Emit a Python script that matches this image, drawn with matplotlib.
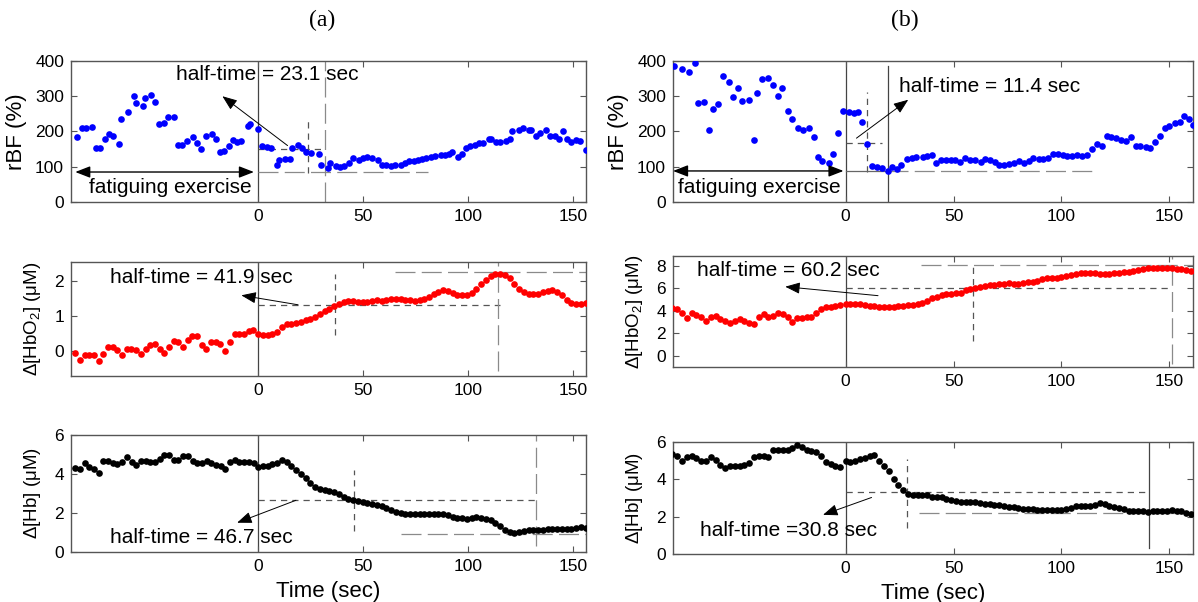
import numpy as np
import matplotlib

matplotlib.use("Agg")
import matplotlib.pyplot as plt

plt.rcParams["font.family"] = ["Liberation Sans", "DejaVu Sans"]
plt.rcParams["mathtext.default"] = "regular"

# ---- panel (a) ----
rbf_a_t = [
	-86, -84, -82, -79, -77, -75, -73, -71, -69, -66,
	-65, -62, -59, -58, -55, -54, -51, -49, -47, -45,
	-43, -40, -38, -36, -34, -31, -29, -27, -25, -22,
	-20, -18, -16, -14, -12, -10, -8, -5, -4, 0,
	2, 4, 6, 9, 10, 13, 15, 16, 19, 21,
	23, 25, 29, 30, 33, 34, 37, 39, 41, 43,
	45, 48, 50, 52, 54, 57, 59, 61, 63, 65,
	68, 70, 72, 74, 76, 78, 80, 82, 84, 87,
	89, 91, 92, 95, 97, 99, 101, 103, 105, 107,
	110, 111, 113, 115, 118, 120, 121, 124, 126, 129,
	130, 132, 134, 137, 139, 141, 143, 145, 147, 149,
	151, 153, 156,
]
rbf_a = [
	183, 209, 209, 212, 153, 153, 178, 192, 186, 165,
	235, 256, 301, 280, 273, 294, 304, 283, 221, 224,
	241, 241, 162, 162, 174, 183, 166, 151, 186, 192,
	178, 141, 145, 158, 176, 169, 174, 216, 222, 207,
	159, 156, 152, 106, 120, 122, 122, 152, 162, 153,
	141, 139, 137, 106, 95, 110, 103, 98, 103, 110,
	125, 118, 125, 127, 126, 120, 106, 106, 103, 106,
	106, 110, 117, 115, 120, 122, 125, 129, 131, 134,
	134, 137, 141, 129, 137, 153, 158, 162, 167, 167,
	178, 178, 169, 169, 174, 178, 202, 203, 211, 203,
	205, 186, 197, 203, 186, 188, 180, 200, 180, 169,
	176, 172, 148,
]

hbo2_a_pre = [
	-0.05, -0.23, -0.09, -0.09, -0.11, -0.26, -0.07, 0.14, 0.14, 0.03,
	-0.10, 0.06, 0.06, 0.03, -0.07, 0.08, 0.17, 0.20, 0.06, -0.04,
	0.14, 0.30, 0.26, 0.12, 0.33, 0.44, 0.43, 0.17, 0.08, 0.26,
	0.26, 0.20, 0.00, 0.26, 0.50, 0.50, 0.50, 0.57, 0.62,
]
hbo2_a_post = [
	0.50, 0.46, 0.46, 0.50, 0.55, 0.70, 0.77, 0.79, 0.81, 0.84,
	0.89, 0.92, 0.98, 1.08, 1.15, 1.22, 1.29, 1.34, 1.41, 1.44,
	1.44, 1.41, 1.42, 1.41, 1.44, 1.46, 1.44, 1.48, 1.50, 1.50,
	1.50, 1.46, 1.46, 1.44, 1.48, 1.50, 1.55, 1.63, 1.70, 1.74,
	1.72, 1.67, 1.60, 1.60, 1.60, 1.67, 1.79, 1.93, 2.05, 2.14,
	2.20, 2.22, 2.17, 2.08, 1.91, 1.77, 1.70, 1.65, 1.63, 1.63,
	1.70, 1.72, 1.74, 1.70, 1.60, 1.48, 1.38, 1.34, 1.34, 1.38,
]

hb_a_pre = [
	4.28, 4.23, 4.54, 4.37, 4.23, 4.06, 4.66, 4.66, 4.54, 4.50,
	4.62, 4.85, 4.62, 4.45, 4.66, 4.66, 4.62, 4.62, 4.79, 4.97,
	4.97, 4.74, 4.74, 4.91, 4.91, 4.67, 4.54, 4.54, 4.66, 4.54,
	4.45, 4.40, 4.23, 4.62, 4.71, 4.62, 4.62, 4.59, 4.54,
]
hb_a_post = [
	4.37, 4.40, 4.40, 4.49, 4.54, 4.71, 4.62, 4.40, 4.20, 3.99,
	3.77, 3.54, 3.34, 3.25, 3.20, 3.13, 3.05, 2.96, 2.83, 2.71,
	2.65, 2.62, 2.57, 2.53, 2.48, 2.43, 2.35, 2.23, 2.14, 2.05,
	2.00, 1.97, 1.97, 1.95, 1.95, 1.95, 1.95, 1.95, 1.95, 1.93,
	1.88, 1.80, 1.76, 1.73, 1.71, 1.76, 1.80, 1.76, 1.71, 1.63,
	1.49, 1.32, 1.15, 1.03, 0.98, 1.03, 1.10, 1.12, 1.13, 1.14,
	1.15, 1.16, 1.16, 1.17, 1.18, 1.20, 1.20, 1.22, 1.28, 1.25,
]

# ---- panel (b) ----
rbf_b_t = [
	-79.6, -76, -72.4, -70, -68.3, -65.8, -63.4, -61.3, -59, -57,
	-54, -52, -50, -48, -45, -42.3, -41, -38.7, -36, -33.7,
	-31.5, -29.7, -26.5, -24.7, -22.3, -19.8, -17, -14.8, -13, -10.8,
	-7.7, -5.8, -3.6, -1.3,
	1.4, 3.8, 5.6, 7.7, 10, 12.3, 14.6, 16.8, 19.5, 21.3,
	23.6, 25.8, 28.5, 30.8, 32.6, 35.7, 37.5, 39.8, 42, 44.3,
	46.5, 48.6, 50.6, 53, 55.5, 57.8, 60, 62.7, 64.5, 66.8,
	69, 71, 73.5, 75.9, 78, 80.4, 82.5, 84.9, 87, 89.4,
	91.5, 93.7, 96, 98.2, 100.5, 102.7, 105, 107.2, 109.5, 111.9,
	114, 116.4, 118.6, 120.9, 123, 125.4, 127.6, 130, 132, 134.4,
	136.6, 139, 141, 143.2, 145.6, 148, 150, 152.4, 155, 157,
	159, 161,
]
rbf_b = [
	386, 376, 368, 395, 280, 285, 203, 263, 277, 358,
	339, 299, 323, 287, 290, 176, 308, 349, 353, 332,
	302, 323, 257, 236, 209, 205, 209, 183, 129, 115,
	110, 137, 195, 257,
	254, 252, 254, 226, 165, 103, 98, 96, 89, 98,
	94, 104, 122, 125, 127, 127, 131, 134, 110, 118,
	118, 118, 118, 113, 125, 120, 118, 113, 122, 118,
	113, 106, 106, 108, 110, 115, 110, 117, 125, 122,
	123, 126, 136, 136, 134, 131, 131, 134, 131, 134,
	150, 165, 158, 186, 184, 181, 176, 174, 184, 158,
	160, 156, 153, 169, 186, 209, 216, 224, 228, 244,
	235, 219,
]

hbo2_b_pre = [
	4.30, 4.18, 3.85, 3.41, 3.79, 3.64, 3.44, 3.11, 3.50, 3.56,
	3.26, 3.14, 2.90, 3.14, 3.29, 3.14, 2.96, 2.84, 3.50, 3.70,
	3.50, 3.56, 3.79, 3.70, 3.50, 2.99, 3.41, 3.41, 3.50, 3.50,
	3.79, 4.15, 4.33, 4.39, 4.47, 4.53,
]
hbo2_b_post = [
	4.59, 4.62, 4.59, 4.62, 4.53, 4.47, 4.44, 4.39, 4.39, 4.39,
	4.39, 4.44, 4.44, 4.53, 4.53, 4.62, 4.68, 4.89, 5.13, 5.27,
	5.39, 5.51, 5.51, 5.57, 5.63, 5.87, 5.93, 6.07, 6.16, 6.22,
	6.31, 6.31, 6.37, 6.37, 6.46, 6.37, 6.37, 6.46, 6.55, 6.61,
	6.67, 6.81, 6.90, 6.96, 6.96, 7.05, 7.11, 7.20, 7.26, 7.35,
	7.35, 7.35, 7.35, 7.29, 7.29, 7.26, 7.35, 7.41, 7.44, 7.50,
	7.56, 7.64, 7.73, 7.79, 7.85, 7.85, 7.79, 7.85, 7.79, 7.70,
	7.70, 7.64, 7.56,
]

hb_b_pre = [
	5.36, 5.23, 4.96, 5.18, 5.23, 5.14, 5.00, 5.00, 5.20, 5.05,
	4.78, 4.61, 4.70, 4.73, 4.73, 4.78, 4.87, 5.20, 5.23, 5.23,
	5.20, 5.56, 5.59, 5.56, 5.59, 5.68, 5.86, 5.73, 5.59, 5.50,
	5.45, 5.23, 4.91, 4.82, 4.73, 4.64,
]
hb_b_post = [
	4.96, 4.91, 5.00, 5.09, 5.14, 5.23, 5.32, 4.96, 4.73, 4.43,
	4.03, 3.71, 3.44, 3.23, 3.14, 3.14, 3.14, 3.14, 3.08, 3.08,
	3.03, 2.97, 2.90, 2.85, 2.81, 2.81, 2.81, 2.78, 2.72, 2.69,
	2.67, 2.63, 2.60, 2.58, 2.54, 2.54, 2.46, 2.42, 2.42, 2.40,
	2.37, 2.37, 2.37, 2.37, 2.37, 2.37, 2.40, 2.49, 2.58, 2.58,
	2.58, 2.58, 2.63, 2.72, 2.69, 2.58, 2.54, 2.46, 2.40, 2.33,
	2.28, 2.28, 2.31, 2.24, 2.28, 2.31, 2.31, 2.31, 2.37, 2.31,
	2.28, 2.22, 2.15,
]

half_times_a = ["23.1", "41.9", "46.7"]
half_times_b = ["11.4", "60.2", "30.8"]

SPINE = "#555555"
DASH = "#555555"
LONG = "#8a8a8a"
TXT = 15


def sampled(values, t_first, t_last):
	# evenly sampled recording between first and last sample time
	return np.linspace(t_first, t_last, len(values))


def style_axes(ax, xlim, ylim, yticks):
	ax.set_xlim(*xlim)
	ax.set_ylim(*ylim)
	ax.set_xticks([0, 50, 100, 150])
	ax.set_yticks(yticks)
	for s in ax.spines.values():
		s.set_color(SPINE)
		s.set_linewidth(1.0)
	ax.tick_params(
		direction="in", top=True, right=True, length=4,
		color=SPINE, labelsize=12.5, pad=5,
	)


def vline(ax, x, y0, y1, kind):
	if kind == "solid":
		ax.plot([x, x], [y0, y1], color="#444444", lw=0.9, zorder=1)
	elif kind == "dash":
		ax.plot([x, x], [y0, y1], color=DASH, lw=0.9, dashes=(5, 4), zorder=1)
	else:
		ax.plot([x, x], [y0, y1], color=LONG, lw=0.9, dashes=(16, 5), zorder=1)


def hline(ax, y, x0, x1, kind):
	if kind == "solid":
		ax.plot([x0, x1], [y, y], color="#666666", lw=0.9, zorder=1)
	elif kind == "dash":
		ax.plot([x0, x1], [y, y], color=DASH, lw=0.9, dashes=(5, 4), zorder=1)
	else:
		ax.plot([x0, x1], [y, y], color=LONG, lw=0.9, dashes=(16, 5), zorder=1)


def arrow(ax, head, tail):
	ax.annotate(
		"", xy=head, xytext=tail,
		arrowprops=dict(
			arrowstyle="-|>,head_length=0.9,head_width=0.35",
			color="black", lw=0.7, shrinkA=0, shrinkB=0,
		),
		zorder=4,
	)


def fatigue_marker(ax, x0, x1, y, tx, ty):
	ax.annotate(
		"", xy=(x0, y), xytext=(x1, y),
		arrowprops=dict(
			arrowstyle="<|-|>,head_length=0.9,head_width=0.35",
			color="black", lw=1.0, shrinkA=0, shrinkB=0,
		),
		zorder=4,
	)
	ax.text(tx, ty, "fatiguing exercise", fontsize=TXT, ha="center", va="center")


def dots(ax, t, y, color):
	ax.plot(
		t, y, "o", color=color, ms=4.8, mew=0,
		linestyle="none", zorder=3, clip_on=True,
	)


fig = plt.figure(figsize=(11.98, 6.02), dpi=100)

xa = (-89, 156)
xb = (-80, 161)

ax1 = fig.add_axes([0.0593, 0.6645, 0.4299, 0.2342])
ax2 = fig.add_axes([0.0593, 0.3754, 0.4299, 0.1894])
ax3 = fig.add_axes([0.0593, 0.0831, 0.4299, 0.1944])
ax4 = fig.add_axes([0.5618, 0.6645, 0.4341, 0.2342])
ax5 = fig.add_axes([0.5618, 0.3904, 0.4341, 0.1844])
ax6 = fig.add_axes([0.5618, 0.0797, 0.4341, 0.1860])

# (a) rBF
style_axes(ax1, xa, (0, 400), [0, 100, 200, 300, 400])
dots(ax1, rbf_a_t, rbf_a, "blue")
vline(ax1, 0, 0, 400, "solid")
vline(ax1, 32, 0, 400, "long")
vline(ax1, 23.5, 82, 238, "dash")
hline(ax1, 151, 0, 32, "dash")
hline(ax1, 85, 0, 81, "long")
arrow(ax1, (-17, 300), (14, 160))
ax1.text(4.5, 362, f"half-time = {half_times_a[0]} sec", fontsize=TXT, ha="center", va="center")
fatigue_marker(ax1, -87, -2, 85, -42, 42)
ax1.set_ylabel("rBF (%)", fontsize=16, labelpad=6)

# (a) HbO2
style_axes(ax2, xa, (-0.7, 2.55), [0, 1, 2])
dots(ax2, sampled(hbo2_a_pre, -87, -2.3), hbo2_a_pre, "red")
dots(ax2, sampled(hbo2_a_post, 0, 155.8), hbo2_a_post, "red")
vline(ax2, 0, -0.7, 2.55, "solid")
vline(ax2, 36.8, 0.46, 2.22, "dash")
hline(ax2, 1.33, 0, 115, "dash")
vline(ax2, 114, -0.55, 2.55, "long")
hline(ax2, 2.27, 65, 158, "long")
arrow(ax2, (-8, 1.6), (19, 1.33))
ax2.text(-27, 2.12, f"half-time = {half_times_a[1]} sec", fontsize=TXT, ha="center", va="center")
ax2.set_ylabel(r"$\Delta$[HbO$_2$] ($\mu$M)", fontsize=13.5, labelpad=8)

# (a) Hb
style_axes(ax3, xa, (0, 6), [0, 2, 4, 6])
dots(ax3, sampled(hb_a_pre, -87, -2.2), hb_a_pre, "black")
dots(ax3, sampled(hb_a_post, 0, 155.8), hb_a_post, "black")
vline(ax3, 0, 0, 6, "solid")
vline(ax3, 45.5, 1.1, 4.2, "dash")
hline(ax3, 2.65, 0, 132, "dash")
vline(ax3, 132, 0.3, 6, "long")
hline(ax3, 0.9, 68, 156, "long")
arrow(ax3, (-10, 1.5), (18, 2.65))
ax3.text(-27, 0.75, f"half-time = {half_times_a[2]} sec", fontsize=TXT, ha="center", va="center")
ax3.set_ylabel(r"$\Delta$[Hb] ($\mu$M)", fontsize=13.5, labelpad=8)
ax3.set_xlabel("Time (sec)", fontsize=16, labelpad=5)

# (b) rBF
style_axes(ax4, xb, (0, 400), [0, 100, 200, 300, 400])
dots(ax4, rbf_b_t, rbf_b, "blue")
vline(ax4, 0, 0, 400, "solid")
vline(ax4, 19.5, 0, 385, "solid")
vline(ax4, 10, 85, 313, "dash")
hline(ax4, 167, 0, 17, "dash")
hline(ax4, 88, 0, 19.5, "solid")
hline(ax4, 88, 19.5, 117, "long")
arrow(ax4, (29, 290), (5, 181))
ax4.text(66.5, 327, f"half-time = {half_times_b[0]} sec", fontsize=TXT, ha="center", va="center")
fatigue_marker(ax4, -80, -1, 88, -40, 42)
ax4.set_ylabel("rBF (%)", fontsize=16, labelpad=6)

# (b) HbO2
style_axes(ax5, xb, (-1, 8.9), [0, 2, 4, 6, 8])
dots(ax5, sampled(hbo2_b_pre, -80.3, -2.5), hbo2_b_pre, "red")
dots(ax5, sampled(hbo2_b_post, 0, 160), hbo2_b_post, "red")
vline(ax5, 0, -1, 8.9, "solid")
vline(ax5, 58.8, 1.3, 8.2, "dash")
hline(ax5, 6.05, 0, 151, "dash")
vline(ax5, 151, -0.7, 8.9, "long")
hline(ax5, 8.1, 35, 161, "long")
arrow(ax5, (-28, 6.16), (15, 5.36))
ax5.text(-26.5, 7.6, f"half-time = {half_times_b[1]} sec", fontsize=TXT, ha="center", va="center")
ax5.set_ylabel(r"$\Delta$[HbO$_2$] ($\mu$M)", fontsize=13.5, labelpad=8)

# (b) Hb
style_axes(ax6, xb, (0, 6), [0, 2, 4, 6])
dots(ax6, sampled(hb_b_pre, -80.3, -2.5), hb_b_pre, "black")
dots(ax6, sampled(hb_b_post, 0, 160), hb_b_post, "black")
vline(ax6, 0, 0, 6, "solid")
vline(ax6, 28.6, 1.4, 5.1, "dash")
hline(ax6, 3.3, 0, 140, "dash")
vline(ax6, 140.5, 0.3, 6, "solid")
hline(ax6, 2.2, 34, 158, "long")
arrow(ax6, (-10.5, 2.1), (12, 3.03))
ax6.text(-26.5, 1.27, f"half-time ={half_times_b[2]} sec", fontsize=TXT, ha="center", va="center")
ax6.set_ylabel(r"$\Delta$[Hb] ($\mu$M)", fontsize=13.5, labelpad=8)
ax6.set_xlabel("Time (sec)", fontsize=16, labelpad=5)

fig.text(322 / 1198, 1 - 20 / 602, "(a)", fontsize=17, family="Liberation Serif", ha="center", va="center")
fig.text(905 / 1198, 1 - 20 / 602, "(b)", fontsize=17, family="Liberation Serif", ha="center", va="center")

fig.savefig("out.png", dpi=100)
